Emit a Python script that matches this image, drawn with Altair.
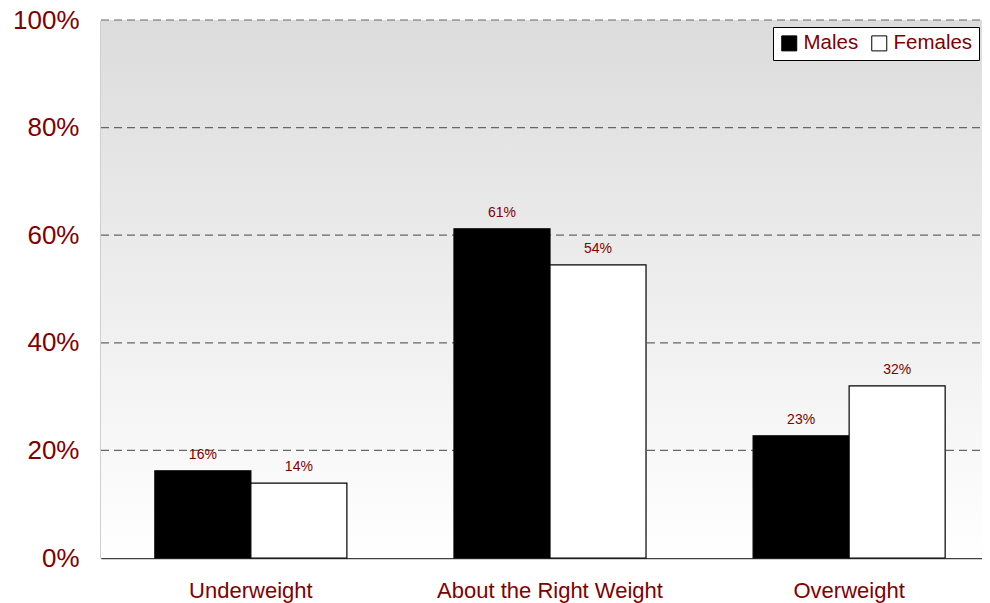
import altair as alt
import pandas as pd

categories = ["Underweight", "About the Right Weight", "Overweight"]
males = [16.2, 61.2, 22.7]
females = [13.9, 54.5, 32.0]
male_labels = ["16%", "61%", "23%"]
female_labels = ["14%", "54%", "32%"]
groups = ["Males", "Females"]
grid_values = [20, 40, 60, 80, 100]

rows = []
for c, m, f, ml, fl in zip(categories, males, females, male_labels, female_labels):
    rows.append({"cat": c, "group": "Males", "value": m, "label": ml})
    rows.append({"cat": c, "group": "Females", "value": f, "label": fl})
df = pd.DataFrame(rows)

W, H = 881, 538
FULLW = 898
RED = "#800000"
FONT = "Liberation Sans"

bg = alt.Chart(pd.DataFrame({"a": [0]})).mark_rect(
    color=alt.Gradient(
        gradient="linear",
        stops=[alt.GradientStop(color="#dcdcdc", offset=0),
               alt.GradientStop(color="#ffffff", offset=1)],
        x1=0, x2=0, y1=0, y2=1,
    )
).encode(x=alt.value(0), x2=alt.value(FULLW), y=alt.value(0), y2=alt.value(H))

yscale = alt.Scale(domain=[0, 100], nice=False)

grid = alt.Chart(pd.DataFrame({"g": grid_values})).mark_rule(
    color="#666666", strokeDash=[8, 5], strokeWidth=1.2
).encode(y=alt.Y("g:Q", scale=yscale), x=alt.value(0), x2=alt.value(FULLW))

xenc = alt.X("cat:N", sort=categories, title=None,
             scale=alt.Scale(paddingInner=0.358, paddingOuter=0.18, range=[0, FULLW]),
             axis=alt.Axis(labelAngle=0, labelColor=RED, labelFontSize=22,
                           labelFont=FONT, labelPadding=22, ticks=False, labelLimit=0,
                           domainColor="#404040", domainWidth=1.5, grid=False))
yenc = alt.Y("value:Q", title=None, scale=yscale,
             axis=alt.Axis(values=[0, 20, 40, 60, 80, 100], labelExpr="datum.value + '%'",
                           labelColor=RED, labelFontSize=26, labelFont=FONT,
                           labelPadding=22, ticks=False, domainColor="#404040",
                           domainWidth=1.5, grid=False))

bars = alt.Chart(df).mark_bar(stroke="black", strokeWidth=1.2).encode(
    x=xenc,
    xOffset=alt.XOffset("group:N", sort=groups),
    y=yenc,
    fill=alt.Fill("group:N", sort=groups,
                  scale=alt.Scale(domain=groups, range=["#000000", "#ffffff"]),
                  legend=alt.Legend(title=None, orient="none", legendX=672, legendY=7,
                                    direction="horizontal", columns=2,
                                    symbolType="square", symbolSize=225,
                                    symbolStrokeColor="black", symbolStrokeWidth=1,
                                    labelFontSize=20.5, labelFont=FONT, labelColor=RED,
                                    fillColor="white", strokeColor="black",
                                    padding=6, columnPadding=10, labelOffset=4)),
)

texts = alt.Chart(df).mark_text(dy=-12, baseline="alphabetic", fontSize=14,
                                font=FONT, color=RED).encode(
    x=alt.X("cat:N", sort=categories),
    xOffset=alt.XOffset("group:N", sort=groups),
    y=alt.Y("value:Q"),
    text="label:N",
)

chart = alt.layer(bg, grid, bars, texts).properties(
    width=W, height=H,
    autosize=alt.AutoSizeParams(type="none"),
    padding={"left": 93, "top": 12, "right": 0, "bottom": 45},
).configure_view(stroke=None).configure(background="white")

chart.save("out.html", embed_options={"renderer": "svg", "actions": False})
